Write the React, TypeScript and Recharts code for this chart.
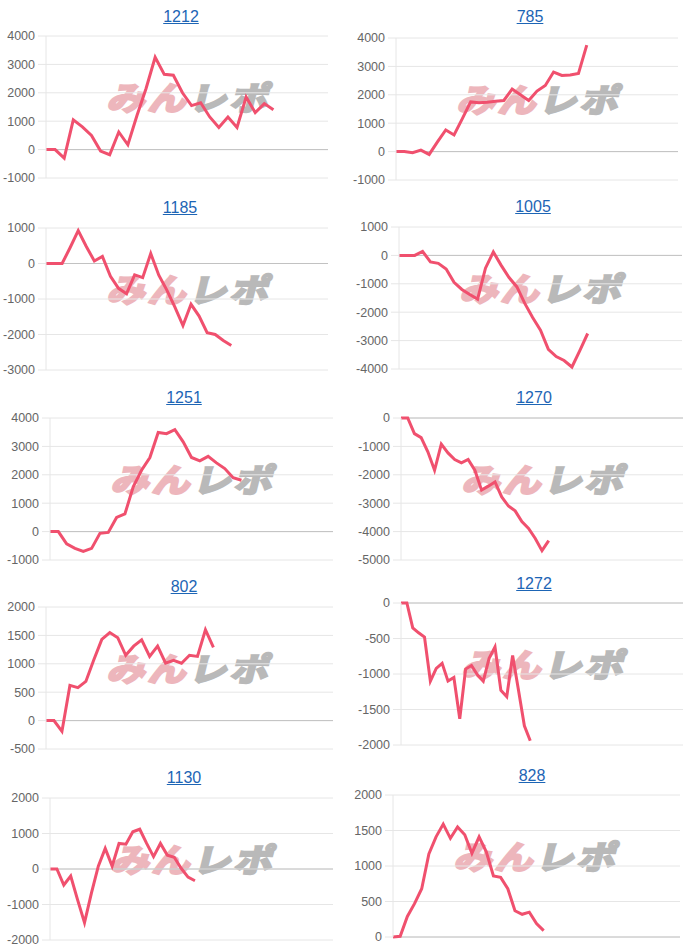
import { LineChart, Line, XAxis, YAxis, CartesianGrid, ReferenceLine } from 'recharts';

// machine numbers shown above each chart
const titles = ['1212', '785', '1185', '1005', '1251', '1270', '802', '1272', '1130', '828'];

// differential per game step
const s1212 = [0, 0, -300, 1050, 800, 500, -50, -180, 620, 170, 1200, 2150, 3250, 2650, 2620, 2000, 1550, 1650, 1150, 780, 1150, 780, 1850, 1300, 1620, 1400];
const s785 = [0, 0, -40, 50, -100, 340, 760, 585, 1160, 1750, 1720, 1740, 1770, 1800, 2200, 2000, 1800, 2130, 2330, 2800, 2680, 2700, 2750, 3750];
const s1185 = [0, 0, 0, 450, 925, 480, 70, 200, -360, -700, -850, -320, -400, 280, -330, -750, -1230, -1750, -1150, -1480, -1950, -2000, -2170, -2310];
const s1005 = [0, 0, 0, 140, -230, -280, -480, -950, -1200, -1380, -1540, -450, 120, -350, -780, -1110, -1690, -2190, -2630, -3310, -3560, -3700, -3930, -3350, -2750];
const s1251 = [0, 0, -430, -590, -700, -590, -60, -30, 500, 620, 1580, 2160, 2610, 3490, 3450, 3590, 3160, 2610, 2490, 2650, 2420, 2220, 1900, 1810];
const s1270 = [0, 0, -550, -690, -1190, -1840, -920, -1230, -1460, -1580, -1460, -1840, -2540, -2400, -2250, -2780, -3100, -3270, -3650, -3890, -4240, -4670, -4320];
const s802 = [0, 0, -190, 620, 580, 690, 1070, 1430, 1550, 1460, 1150, 1310, 1420, 1130, 1310, 1010, 1060, 1010, 1150, 1130, 1600, 1290];
const s1272 = [0, 0, -350, -420, -480, -1100, -920, -850, -1100, -1050, -1630, -930, -880, -1010, -1100, -780, -620, -1230, -1320, -740, -1230, -1730, -1940];
const s1130 = [0, 0, -450, -200, -870, -1510, -680, 80, 580, 80, 720, 700, 1050, 1120, 720, 350, 720, 390, 330, 20, -230, -330];
const s828 = [0, 10, 290, 470, 680, 1170, 1410, 1590, 1390, 1550, 1440, 1180, 1410, 1200, 860, 840, 680, 370, 320, 350, 190, 90];

const seriesList = [s1212, s785, s1185, s1005, s1251, s1270, s802, s1272, s1130, s828];

// length of the x axis (steps) for each chart
const xLengths = [31, 34, 35, 36, 34, 42, 36, 48, 41, 40];

const yTicks = [
  [-1000, 0, 1000, 2000, 3000, 4000],
  [-1000, 0, 1000, 2000, 3000, 4000],
  [-3000, -2000, -1000, 0, 1000],
  [-4000, -3000, -2000, -1000, 0, 1000],
  [-1000, 0, 1000, 2000, 3000, 4000],
  [-5000, -4000, -3000, -2000, -1000, 0],
  [-500, 0, 500, 1000, 1500, 2000],
  [-2000, -1500, -1000, -500, 0],
  [-2000, -1000, 0, 1000, 2000],
  [0, 500, 1000, 1500, 2000],
];

// plot-area placement on the page
const frames = [
  { left: 46, right: 328, top: 36, cx: 181, ty: 17 },
  { left: 396, right: 678, top: 38, cx: 530, ty: 17 },
  { left: 46, right: 328, top: 228, cx: 180, ty: 208 },
  { left: 399, right: 682, top: 227, cx: 533, ty: 207 },
  { left: 50, right: 333, top: 418, cx: 184, ty: 398 },
  { left: 401, right: 683, top: 418, cx: 534, ty: 398 },
  { left: 46, right: 333, top: 607, cx: 184, ty: 587 },
  { left: 401, right: 683, top: 603, cx: 534, ty: 584 },
  { left: 50, right: 333, top: 798, cx: 184, ty: 778 },
  { left: 393, right: 680, top: 795, cx: 532, ty: 776 },
];

const PLOT_H = 142;
const AXIS_W = 50;
const PAD = 8;
const font = "'Liberation Sans', Arial, sans-serif";

function Watermark({ x, y }: { x: number; y: number }) {
  const base = {
    fontFamily: "'Noto Sans CJK JP', sans-serif",
    fontWeight: 700,
  };
  return (
    <div
      style={{
        position: 'absolute',
        left: x,
        top: y,
        whiteSpace: 'nowrap',
        fontSize: 38,
        lineHeight: '38px',
        letterSpacing: 3,
        transform: 'skewX(-14deg) scaleY(0.85)',
        transformOrigin: 'left top',
      }}
    >
      <span style={{ ...base, color: '#edb6bc', WebkitTextStroke: '3px #edb6bc' }}>みん</span>
      <span style={{ ...base, color: '#b9b9b9', WebkitTextStroke: '3px #b9b9b9' }}>レポ</span>
    </div>
  );
}

function Panel({ idx }: { idx: number }) {
  const f = frames[idx];
  const ticks = yTicks[idx];
  const data = seriesList[idx].map((v, i) => ({ x: i, v }));
  const plotW = f.right - f.left;
  return (
    <>
      <div
        style={{
          position: 'absolute',
          left: f.cx - 100,
          top: f.ty - 10,
          width: 200,
          textAlign: 'center',
          fontFamily: font,
          fontSize: 16,
          lineHeight: '20px',
          color: '#1d65b5',
          textDecoration: 'underline',
        }}
      >
        {titles[idx]}
      </div>
      <Watermark x={f.left + 68} y={f.top + 44} />
      <div style={{ position: 'absolute', left: f.left - AXIS_W, top: f.top - PAD }}>
        <LineChart
          width={AXIS_W + plotW}
          height={PLOT_H + PAD * 2}
          data={data}
          margin={{ top: PAD, right: 0, bottom: PAD, left: 0 }}
        >
          <CartesianGrid horizontal vertical={false} stroke="#e6e6e6" />
          <XAxis dataKey="x" type="number" domain={[0, xLengths[idx]]} hide />
          <YAxis
            type="number"
            width={AXIS_W}
            domain={[ticks[0], ticks[ticks.length - 1]]}
            ticks={ticks}
            interval={0}
            axisLine={{ stroke: '#e6e6e6' }}
            tickLine={{ stroke: '#e6e6e6' }}
            tickSize={8}
            tickMargin={3}
            tick={{ fill: '#666', fontSize: 12.5, fontFamily: font }}
          />
          <ReferenceLine y={0} stroke="#c2c2c2" />
          <Line
            type="linear"
            dataKey="v"
            stroke="#f0506e"
            strokeWidth={3}
            dot={false}
            isAnimationActive={false}
          />
        </LineChart>
      </div>
    </>
  );
}

export default function App() {
  return (
    <div style={{ position: 'absolute', left: 0, top: 0, width: 700, height: 950, background: '#fff' }}>
      {titles.map((_, i) => (
        <Panel key={i} idx={i} />
      ))}
    </div>
  );
}
